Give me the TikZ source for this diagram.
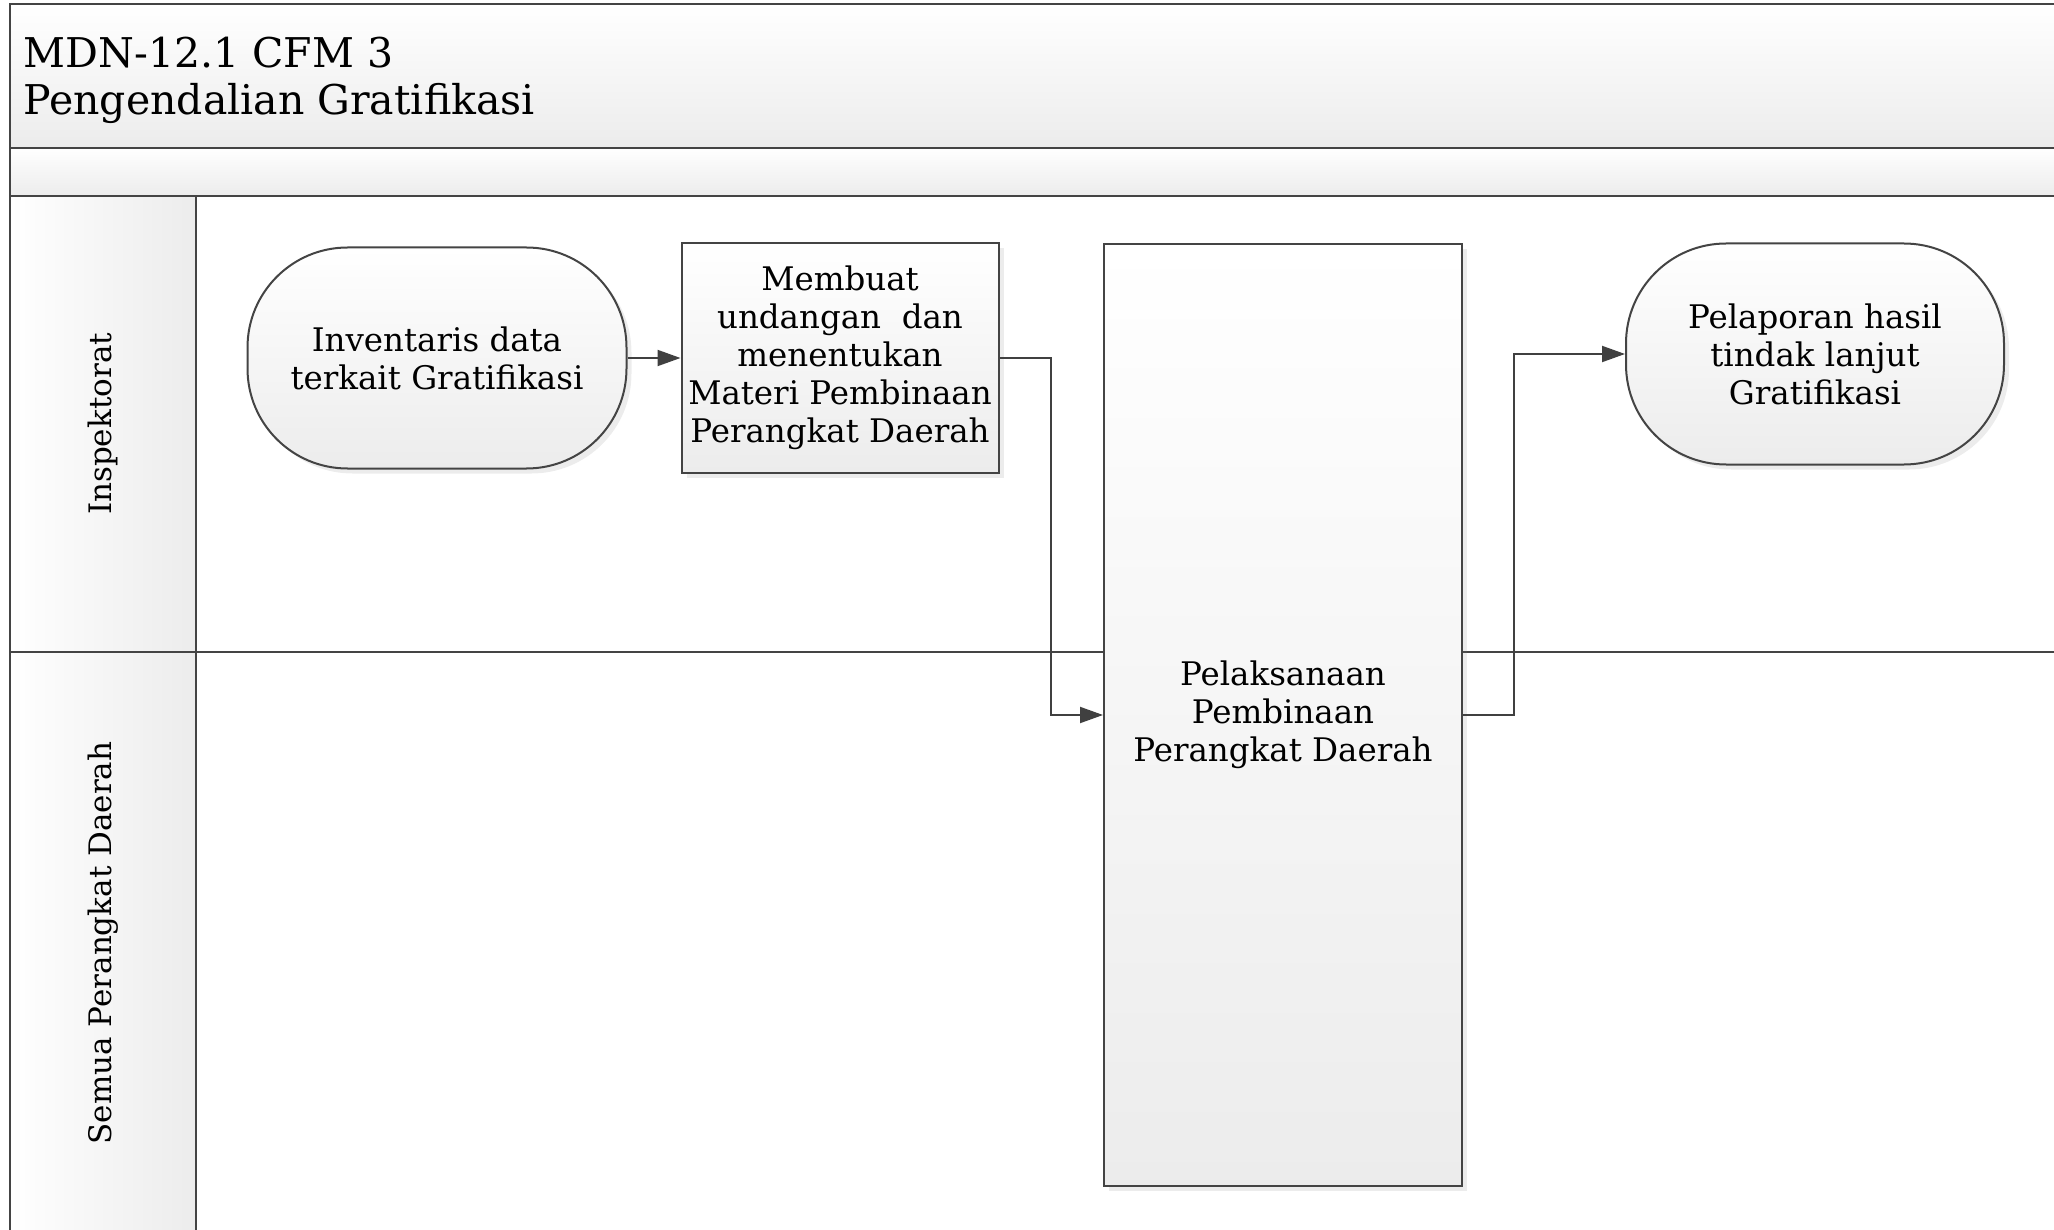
\documentclass[tikz,border=0pt]{standalone}
\usepackage{fontspec}
\setmainfont{DejaVu Serif}
\usetikzlibrary{arrows.meta,positioning,shadows}
\definecolor{laneline}{HTML}{444444}
\definecolor{lanegray}{HTML}{ECECEC}
\definecolor{flowline}{HTML}{404040}
\newcommand{\nodefont}{\fontsize{32.5}{38}\selectfont}
\newcommand{\lanefont}{\fontsize{31}{38}\selectfont}
\newcommand{\headfont}{\fontsize{41}{47}\selectfont}
\tikzset{
  procbox/.style={
    rectangle,
    draw=laneline,
    line width=2pt,
    top color=white,
    bottom color=lanegray,
    drop shadow={shadow xshift=5pt,shadow yshift=-5pt,opacity=0.15},
    inner sep=0pt,
    align=center,
    font=\nodefont
  },
  termbox/.style={
    procbox,
    rounded corners=100pt
  },
  lanetext/.style={
    rotate=90,
    font=\lanefont
  },
  poolline/.style={
    draw=laneline,
    line width=2pt
  },
  flow/.style={
    -{Triangle[length=23pt,width=16pt]},
    line width=2pt,
    draw=flowline
  }
}
\begin{document}
\begin{tikzpicture}[x=1pt,y=-1pt]
\useasboundingbox (0,0) rectangle (2054,1230);
\clip (0,0) rectangle (2054,1230);
% pool header bands
\shade[top color=white,bottom color=lanegray] (10,4) rectangle (2070,148);
\shade[top color=white,bottom color=lanegray] (10,148) rectangle (2070,196);
% lane header column
\shade[left color=white,right color=lanegray] (10,196) rectangle (196,1250);
\draw[poolline] (10,1250) -- (10,4) -- (2070,4);
\draw[poolline] (10,148) -- (2070,148);
\draw[poolline] (10,196) -- (2070,196);
\draw[poolline] (196,196) -- (196,1250);
\draw[poolline] (10,652) -- (2070,652);
\node[anchor=west,align=left,font=\headfont] (title) at (20,80) {MDN-12.1 CFM 3\\Pengendalian Gratifikasi};
\node[lanetext] (lane1) at (103,424) {Inspektorat};
\node[lanetext] (lane2) at (103,943) {Semua Perangkat Daerah};
% steps
\node[termbox,minimum width=379pt,minimum height=221pt] (inv) at (437,358) {Inventaris data\\terkait Gratifikasi};
\node[procbox,minimum width=317pt,minimum height=230pt,right=53pt of inv] (undangan) {Membuat\\undangan~ dan\\menentukan\\Materi Pembinaan\\Perangkat Daerah};
\node[procbox,minimum width=358pt,minimum height=942pt] (bina) at (1283,715) {Pelaksanaan\\Pembinaan\\Perangkat Daerah};
\node[termbox,minimum width=378pt,minimum height=221pt] (lapor) at (1815,354) {Pelaporan hasil\\tindak lanjut\\Gratifikasi};
% connectors
\draw[flow] (inv) -- (undangan);
\draw[flow] (undangan.east) -- ++(51,0) |- (bina.west);
\draw[flow] (bina.east) -- ++(51,0) |- (lapor.west);
\end{tikzpicture}
\end{document}
